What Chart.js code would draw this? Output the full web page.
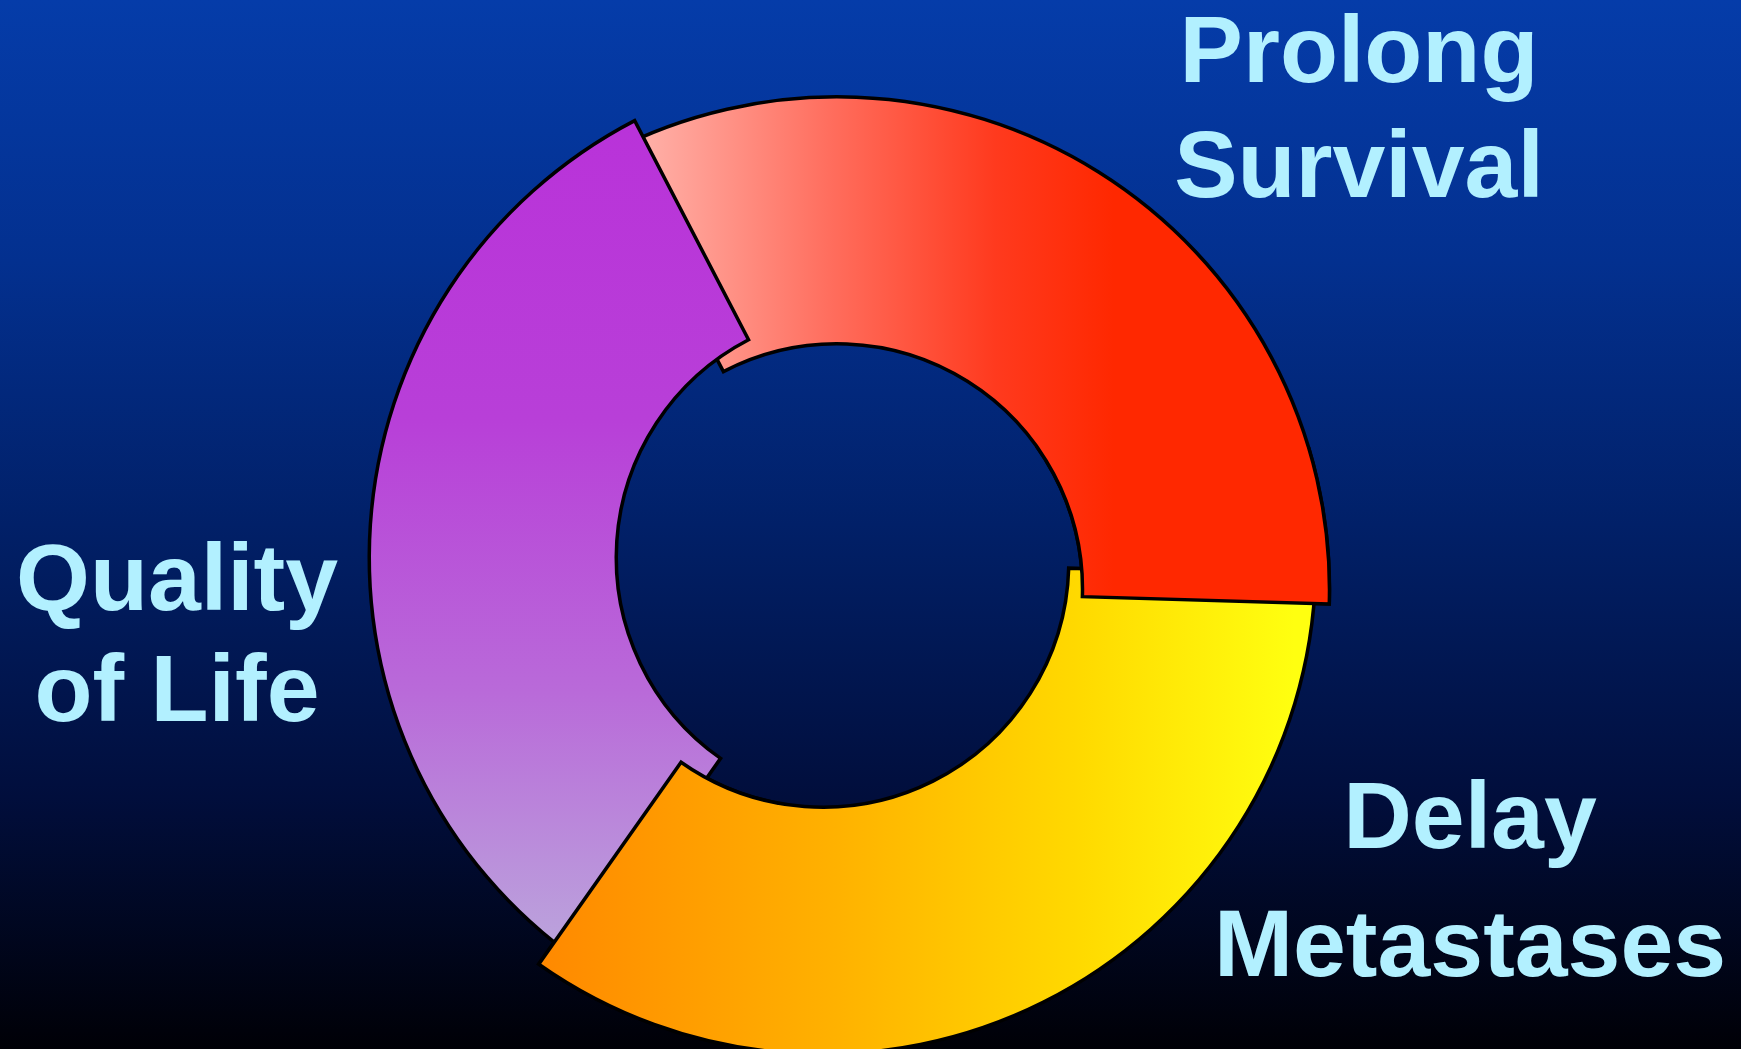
<!DOCTYPE html>
<html>
<head>
<meta charset="utf-8">
<title>Treatment goals</title>
<script src="https://cdn.jsdelivr.net/npm/chart.js@4/dist/chart.umd.min.js"></script>
<style>
  html, body { margin: 0; padding: 0; }
  body {
    width: 1741px; height: 1049px; overflow: hidden; position: relative;
    background: linear-gradient(to bottom, #053ca9 0%, #03308f 25%, #012068 50%, #010e3c 76%, #000006 100%);
    font-family: 'Liberation Sans', Arial, sans-serif;
  }
  #wrap { position: absolute; left: 0; top: 0; width: 1741px; height: 1049px; }
  .lbl {
    position: absolute; color: #b2f0ff; font-weight: bold; font-size: 95px;
    text-align: center; white-space: nowrap; transform: translateX(-50%);
  }
</style>
</head>
<body>
<div id="wrap"><canvas id="goalsChart"></canvas></div>

<script>
// data (clockwise, starting at the red slice)
const labels = [['Prolong', 'Survival'], ['Delay', 'Metastases'], ['Quality', 'of Life']];
const values = [33.1, 34.3, 32.6];

// label boxes: centre x, top of first line, line height
const labelBoxes = [
    { x: 1359, top: -8, lh: 115 },
    { x: 1470, top: 751, lh: 128 },
    { x: 177, top: 522, lh: 111 }
];

const RADIUS = 495;
const SLIDE = 11;                    // each slice is nudged a bit clockwise
const sliceOffsets = [-78, -48, -92]; // and pulled in towards the middle

// gradient fills, in canvas coords
function sliceFill(context) {
    const chart = context.chart;
    const i = context.dataIndex;
    if (!chart.chartArea) return ['#ff5a40', '#ffc000', '#b850d8'][i];
    const c = chart.ctx;
    let g;
    if (i === 0) {
        g = c.createLinearGradient(640, 0, 1115, 0);
        g.addColorStop(0, '#ffb2aa');
        g.addColorStop(0.4, '#ff6e5e');
        g.addColorStop(0.75, '#ff3a1e');
        g.addColorStop(1, '#ff2800');
    } else if (i === 1) {
        g = c.createLinearGradient(550, 0, 1310, 0);
        g.addColorStop(0, '#ff8800');
        g.addColorStop(0.4, '#ffb200');
        g.addColorStop(0.72, '#ffda00');
        g.addColorStop(1, '#ffff10');
    } else {
        g = c.createLinearGradient(0, 120, 0, 950);
        g.addColorStop(0, '#b932d9');
        g.addColorStop(0.37, '#b83fd8');
        g.addColorStop(0.7, '#b96ad9');
        g.addColorStop(1, '#bba2dc');
    }
    return g;
}

function drawSlice(ctx, arc, clip) {
    const mid = (arc.startAngle + arc.endAngle) / 2 + Math.PI / 2;
    ctx.save();
    if (clip) {
        ctx.beginPath();
        ctx.rect(clip[0], clip[1], clip[2], clip[3]);
        ctx.clip();
    }
    ctx.translate(Math.cos(mid) * SLIDE, Math.sin(mid) * SLIDE);
    arc.draw(ctx);
    ctx.restore();
}

// each slice lies over the next one clockwise, so red and yellow are
// drawn again inside small boxes to make the overlap go round
const slicePainter = {
    id: 'slicePainter',
    beforeDatasetsDraw(chart) {
        const arcs = chart.getDatasetMeta(0).data;
        const a = chart.chartArea;
        const cx = (a.left + a.right) / 2;
        const cy = (a.top + a.bottom) / 2;
        const ctx = chart.ctx;
        arcs.forEach(arc => drawSlice(ctx, arc));
        drawSlice(ctx, arcs[0], [cx + 150, cy - 120, chart.width, 270]);
        drawSlice(ctx, arcs[1], [0, cy + 120, cx - 60, chart.height]);
        return false;
    }
};

new Chart(document.getElementById('goalsChart'), {
    type: 'doughnut',
    data: {
        labels: labels,
        datasets: [{
            data: values,
            backgroundColor: sliceFill,
            borderColor: '#000000',
            borderWidth: 3.5,
            borderJoinStyle: 'miter',
            offset: sliceOffsets
        }]
    },
    options: {
        responsive: true,
        maintainAspectRatio: false,
        animation: false,
        events: [],
        rotation: -27.5,
        radius: RADIUS,
        cutout: '50.1%',
        layout: { padding: { left: 0, right: 65, top: 85, bottom: 0 } },
        plugins: {
            legend: { display: false },
            tooltip: { enabled: false }
        }
    },
    plugins: [slicePainter]
});

// slice names as html text
const wrap = document.getElementById('wrap');
labels.forEach((lines, i) => {
    const box = labelBoxes[i];
    const div = document.createElement('div');
    div.className = 'lbl';
    div.style.left = box.x + 'px';
    div.style.top = box.top + 'px';
    div.style.lineHeight = box.lh + 'px';
    div.innerHTML = lines.join('<br>');
    wrap.appendChild(div);
});
</script>
</body>
</html>
